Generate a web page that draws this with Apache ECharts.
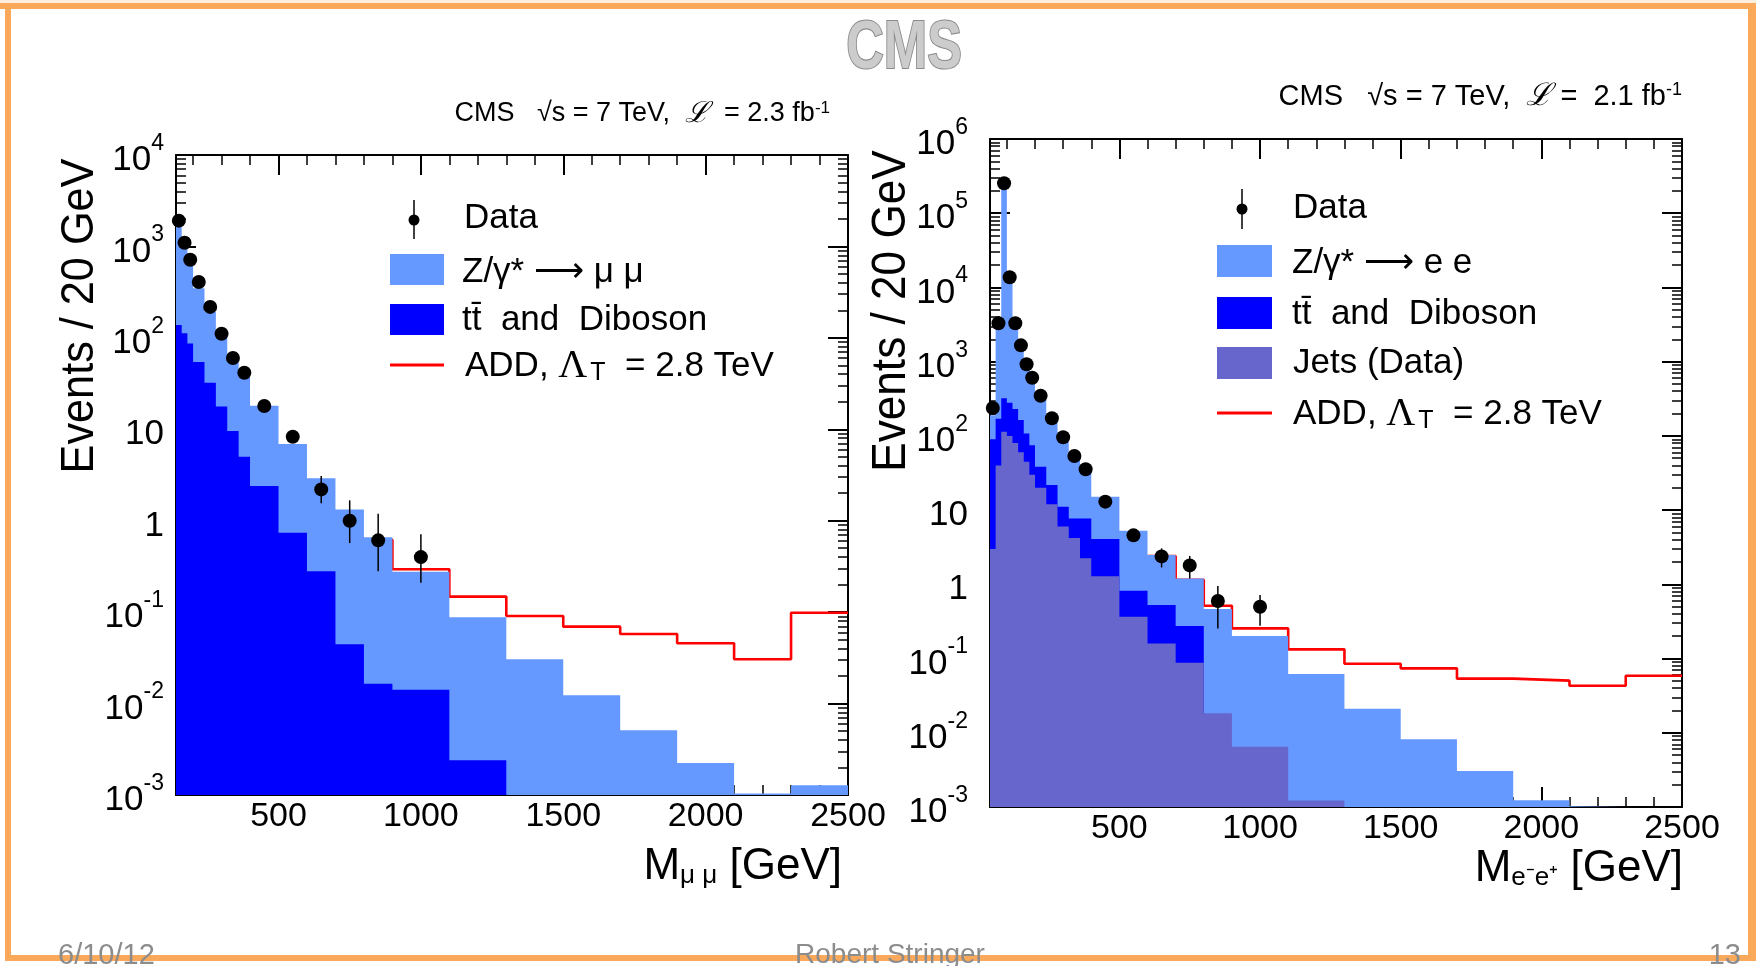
<!DOCTYPE html>
<html><head><meta charset="utf-8">
<script src="https://cdn.jsdelivr.net/npm/echarts@6.0.0/dist/echarts.min.js"></script>
<style>html,body{margin:0;padding:0;background:#fff;}#c{width:1756px;height:966px;}</style>
</head><body><div id="c"></div>
<script>
// ---------------- data: muon channel ----------------
const muEdges = [140,160,180,200,240,280,320,360,400,500,600,700,800,900,1100,1300,1500,1700,1900,2100,2300,2500];
const muZStack = [1714,993,627,348,193,103,54.8,44.5,18.1,6.9,2.91,1.33,0.66,0.277,0.088,0.0305,0.0123,0.0051,0.00224,0.00104,0.00128];
const muTTStack = [138,112,87,54.5,32.3,17.7,9.6,5.0,2.4,0.74,0.28,0.0445,0.0165,0.0142,0.0024];
const muAddEdges = [800,900,1100,1300,1500,1700,1900,2100,2300,2500];
const muAdd = [0.62,0.294,0.148,0.0908,0.0694,0.0577,0.0456,0.0305,0.0986];
const muDataX = [150,170,190,220,260,300,340,380,450,550,650,750,850,1000];
const muData = [1914,1099,716,408,218,111,60.3,41.6,18.0,8.3,2.2,1.0,0.61,0.40];
const muErrLo = [1870,1065,690,390,207,104,55,37.5,16.1,7.2,1.55,0.57,0.28,0.21];
const muErrHi = [1958,1133,742,426,229,118,66,46,20,9.6,3.08,1.67,1.19,0.71];
// ---------------- data: electron channel ----------------
const eeEdges = [40,60,80,100,120,140,160,180,200,240,280,320,360,400,500,600,700,800,900,1100,1300,1500,1700,1900,2100,2300,2500];
const eeZStack = [190,2780,228000,12600,2812,1550,880,560,330,165,90,52,33,15.1,5.28,2.48,1.2,0.464,0.201,0.0619,0.0211,0.00817,0.00305,0.00123,0.00102];
const eeTTStack = [90,170,321,280,230,164,108,75,38.4,21.8,11.1,7.7,7.7,4.08,0.82,0.526,0.274];
const eeJets = [3,40,114,100,80,60,45,30,20,12,6,4.2,2.24,1.29,0.366,0.16,0.088,0.0183,0.0065,0.00122];
const eeAddEdges = [600,700,800,900,1100,1300,1500,1700,1900,2100,2300,2500];
const eeAdd = [2.4,1.15,0.515,0.255,0.133,0.0853,0.0738,0.0536,0.0504,0.043,0.0587];
const eeDataX = [50,70,90,110,130,150,170,190,220,260,300,340,380,450,550,650,750,850,1000];
const eeData = [238,3290,253000,13700,3290,1660,921,608,348,173,95.7,53.6,35.5,13.0,4.57,2.38,1.80,0.596,0.50];
const eeErrLo = [225,3230,252000,13580,3230,1620,891,584,336,165,91,50,32.6,11.9,3.75,1.69,1.2,0.255,0.277];
const eeErrHi = [251,3350,254000,13820,3350,1700,951,632,360,181,101,57.5,38.5,14.2,5.4,3.05,2.41,0.95,0.72];
// ---------------- tick labels ----------------
const xTickLabels = [500,1000,1500,2000,2500];
const muYExp = [-3,-2,-1,0,1,2,3,4];
const eeYExp = [-3,-2,-1,0,1,2,3,4,5,6];

const FONT = "'Liberation Sans', Arial, Helvetica, sans-serif";
const C_Z = '#6699ff', C_TT = '#0000ff', C_J = '#6666cc', C_ADD = '#ff0000';

function histPoints(edges, vals) {
  const pts = [];
  for (let i = 0; i < vals.length; i++) pts.push([edges[i], vals[i]]);
  pts.push([edges[vals.length], vals[vals.length - 1]]);
  return pts;
}
function minorX(min, max) {
  const out = [];
  for (let v = Math.ceil(min / 100) * 100; v < max; v += 100) if (v % 500 !== 0) out.push(v);
  return out;
}
function minorY(exps) {
  const out = [];
  for (let i = 0; i < exps.length - 1; i++) for (let k = 2; k <= 9; k++) out.push(exps[i] + Math.log10(k));
  return out;
}
const line2 = {show: true, onZero: false, lineStyle: {color: '#000', width: 2}};
const noLine = {show: false, onZero: false};
function tick(vals, len, w) {
  return {show: true, inside: true, length: len, customValues: vals, lineStyle: {color: '#000', width: w}};
}
function xAxesFor(g, min, max) {
  const base = {gridIndex: g, type: 'value', min: min, max: max, splitLine: {show: false}, axisLabel: {show: false}};
  const mn = minorX(min, max);
  return [
    Object.assign({}, base, {position: 'bottom', axisLine: line2, axisTick: tick(xTickLabels, 20, 2),
      axisLabel: {show: true, customValues: xTickLabels, margin: 5, fontSize: 34, color: '#000', fontFamily: FONT,
        formatter: function (v) { return String(v); }}}),
    Object.assign({}, base, {position: 'bottom', axisLine: noLine, axisTick: tick(mn, 10, 1.5)}),
    Object.assign({}, base, {position: 'top', axisLine: line2, axisTick: tick(xTickLabels, 20, 2)}),
    Object.assign({}, base, {position: 'top', axisLine: noLine, axisTick: tick(mn, 10, 1.5)})
  ];
}
function yLabel(v) {
  if (v === 0) return '{b|1}';
  if (v === 1) return '{b|10}';
  return '{b|10}{s|' + v + '}';
}
function yAxesFor(g, exps, margin) {
  const lo = exps[0], hi = exps[exps.length - 1];
  const base = {gridIndex: g, type: 'value', min: lo, max: hi, splitLine: {show: false}, axisLabel: {show: false}};
  const mn = minorY(exps);
  return [
    {gridIndex: g, type: 'log', logBase: 10, min: Math.pow(10, lo), max: Math.pow(10, hi), show: false,
      axisLine: noLine, splitLine: {show: false}},
    Object.assign({}, base, {position: 'left', axisLine: line2, axisTick: tick(exps, 20, 2),
      axisLabel: {show: true, customValues: exps, margin: margin, formatter: yLabel,
        rich: {
          b: {fontSize: 35, fontFamily: FONT, color: '#000', lineHeight: 46, verticalAlign: 'bottom'},
          s: {fontSize: 23, fontFamily: FONT, color: '#000', verticalAlign: 'top'}
        }}}),
    Object.assign({}, base, {position: 'left', axisLine: noLine, axisTick: tick(mn, 10, 1.5)}),
    Object.assign({}, base, {position: 'right', axisLine: line2, axisTick: tick(exps, 20, 2)}),
    Object.assign({}, base, {position: 'right', axisLine: noLine, axisTick: tick(mn, 10, 1.5)})
  ];
}
function area(edges, vals, color, xi, yi) {
  return {type: 'line', xAxisIndex: xi, yAxisIndex: yi, step: 'end', data: histPoints(edges, vals),
    symbol: 'none', showSymbol: false, lineStyle: {width: 0, color: color},
    areaStyle: {color: color, opacity: 1, origin: 'start'}, silent: true, clip: true, z: 2};
}
function stepLine(edges, vals, color, xi, yi) {
  return {type: 'line', xAxisIndex: xi, yAxisIndex: yi, step: 'end', data: histPoints(edges, vals),
    symbol: 'none', showSymbol: false, lineStyle: {width: 2.6, color: color}, silent: true, clip: true, z: 1};
}
function errBars(xs, lo, hi, xi, yi) {
  return {type: 'custom', xAxisIndex: xi, yAxisIndex: yi, silent: true, clip: false, z: 5,
    data: xs.map((x, i) => [x, lo[i], hi[i]]), encode: {x: 0, y: [1, 2]},
    renderItem: function (params, api) {
      const a = api.coord([api.value(0), api.value(1)]);
      const b = api.coord([api.value(0), api.value(2)]);
      return {type: 'line', shape: {x1: a[0], y1: a[1], x2: b[0], y2: b[1]}, style: {stroke: '#000', lineWidth: 1.5}};
    }};
}
function dots(xs, ys, xi, yi) {
  return {type: 'scatter', xAxisIndex: xi, yAxisIndex: yi, data: xs.map((x, i) => [x, ys[i]]), z: 6,
    symbol: 'circle', symbolSize: 14, itemStyle: {color: '#000', opacity: 1}, silent: true, clip: false};
}

// ---------- decorations ----------
const ORANGE = '#faa85a';
const txt = (x, y, text, size, extra) => ({type: 'text', x: x, y: y, z: 100,
  style: Object.assign({text: text, fontSize: size, fontFamily: FONT, fill: '#000', align: 'left', verticalAlign: 'middle'}, extra || {})});
const box = (x, y, w, h, c) => ({type: 'rect', z: 100, shape: {x: x, y: y, width: w, height: h}, style: {fill: c}});
const seg = (x1, y1, x2, y2, c, w) => ({type: 'line', z: 100, shape: {x1: x1, y1: y1, x2: x2, y2: y2}, style: {stroke: c, lineWidth: w}});
const dot = (cx, cy) => ({type: 'circle', z: 100, shape: {cx: cx, cy: cy, r: 5.5}, style: {fill: '#000'}});
const addRich = {
  t: {fontSize: 35, fontFamily: FONT, color: '#000'},
  g: {fontSize: 40, fontFamily: "'Liberation Serif', 'DejaVu Serif', serif", color: '#000'},
  sub: {fontSize: 25, fontFamily: FONT, color: '#000', verticalAlign: 'bottom', padding: [14, 0, 0, 3]}
};
const lumiRich = (fs) => ({
  t: {fontSize: fs, fontFamily: FONT, color: '#000'},
  l: {fontSize: fs + 2, fontFamily: "'DejaVu Serif', serif", fontStyle: 'italic', color: '#000'},
  s: {fontSize: Math.round(fs * 0.62), fontFamily: FONT, color: '#000', verticalAlign: 'top'}
});
const titleRich = {
  b: {fontSize: 44, fontFamily: FONT, color: '#000', verticalAlign: 'bottom', lineHeight: 44},
  sub: {fontSize: 26, fontFamily: FONT, color: '#000', verticalAlign: 'bottom', lineHeight: 30}
};

const graphics = [
  box(0, 0, 1756, 3, '#fdeedd'),
  box(0, 3, 1756, 6, ORANGE),
  box(5, 3, 6, 957, ORANGE),
  box(1748, 3, 8, 957, ORANGE),
  box(5, 955, 1751, 6, ORANGE),
  {type: 'text', x: 904, y: 49, scaleX: 0.84, scaleY: 1.1, z: 100,
    style: {text: 'CMS', fontSize: 62, fontWeight: 'bold', fontFamily: FONT, fill: '#cccccc', stroke: '#8a8a8a', lineWidth: 2, align: 'center', verticalAlign: 'middle'}},
  txt(58, 941, '6/10/12', 29, {fill: '#8c8c8c', verticalAlign: 'top'}),
  txt(890, 941, 'Robert Stringer', 28, {fill: '#8c8c8c', verticalAlign: 'top', align: 'center'}),
  txt(1741, 941, '13', 29, {fill: '#8c8c8c', verticalAlign: 'top', align: 'right'}),
  // lumi labels
  {type: 'text', x: 830, y: 114, z: 100, style: {text: '{t|CMS   √s = 7 TeV,  }{l|ℒ}{t|  = 2.3 fb}{s|-1}', align: 'right', verticalAlign: 'middle', rich: lumiRich(27)}},
  {type: 'text', x: 1682, y: 97, z: 100, style: {text: '{t|CMS   √s = 7 TeV,  }{l|ℒ}{t| =  2.1 fb}{s|-1}', align: 'right', verticalAlign: 'middle', rich: lumiRich(29)}},
  // y titles
  {type: 'text', x: 80, y: 316, rotation: Math.PI / 2, scaleX: 0.92, z: 100, style: {text: 'Events / 20 GeV', fontSize: 47, fontFamily: FONT, fill: '#000', align: 'center', verticalAlign: 'middle'}},
  {type: 'text', x: 892, y: 311, rotation: Math.PI / 2, scaleX: 0.92, z: 100, style: {text: 'Events / 20 GeV', fontSize: 48, fontFamily: FONT, fill: '#000', align: 'center', verticalAlign: 'middle'}},
  // x titles
  {type: 'text', x: 842, y: 867, z: 100, style: {text: '{b|M}{sub|μ μ}{b| [GeV]}', align: 'right', verticalAlign: 'middle', rich: titleRich}},
  {type: 'text', x: 1683, y: 869, z: 100, style: {text: '{b|M}{sub|e⁻e⁺}{b| [GeV]}', align: 'right', verticalAlign: 'middle', rich: titleRich}},
  // left legend
  seg(414, 200, 414, 239, '#000', 1.5), dot(414, 220),
  txt(464, 218, 'Data', 35),
  box(390, 254, 54, 31, C_Z), txt(462, 272, 'Z/γ* ⟶ μ μ', 35),
  box(390, 304, 54, 31, C_TT), txt(462, 320, 'tt̄  and  Diboson', 35),
  seg(390, 365, 444, 365, C_ADD, 3),
  {type: 'text', x: 465, y: 366, z: 100, style: {text: '{t|ADD, }{g|Λ}{sub|T}{t|  = 2.8 TeV}', align: 'left', verticalAlign: 'middle', rich: addRich}},
  // right legend
  seg(1242, 189, 1242, 229, '#000', 1.5), dot(1242, 209),
  txt(1293, 208, 'Data', 35),
  box(1217, 245, 55, 32, C_Z), txt(1292, 263, 'Z/γ* ⟶ e e', 35),
  box(1217, 297, 55, 32, C_TT), txt(1292, 314, 'tt̄  and  Diboson', 35),
  box(1217, 347, 55, 32, C_J), txt(1293, 363, 'Jets (Data)', 35),
  seg(1217, 413, 1272, 413, C_ADD, 3),
  {type: 'text', x: 1293, y: 414, z: 100, style: {text: '{t|ADD, }{g|Λ}{sub|T}{t|  = 2.8 TeV}', align: 'left', verticalAlign: 'middle', rich: addRich}}
];

const option = {
  animation: false,
  backgroundColor: '#ffffff',
  grid: [
    {left: 176, top: 155, width: 672, height: 640, show: false},
    {left: 990, top: 139, width: 692, height: 668, show: false}
  ],
  xAxis: xAxesFor(0, 140, 2500).concat(xAxesFor(1, 40, 2500)),
  yAxis: yAxesFor(0, muYExp, 12).concat(yAxesFor(1, eeYExp, 22)),
  series: [
    stepLine(muAddEdges, muAdd, C_ADD, 0, 0),
    area(muEdges, muZStack, C_Z, 0, 0),
    area(muEdges, muTTStack, C_TT, 0, 0),
    errBars(muDataX, muErrLo, muErrHi, 0, 0),
    dots(muDataX, muData, 0, 0),
    stepLine(eeAddEdges, eeAdd, C_ADD, 4, 5),
    area(eeEdges, eeZStack, C_Z, 4, 5),
    area(eeEdges, eeTTStack, C_TT, 4, 5),
    area(eeEdges, eeJets, C_J, 4, 5),
    errBars(eeDataX, eeErrLo, eeErrHi, 4, 5),
    dots(eeDataX, eeData, 4, 5)
  ],
  graphic: {elements: graphics}
};
const chart = echarts.init(document.getElementById('c'), null, {renderer: 'canvas'});
chart.setOption(option);
</script></body></html>
